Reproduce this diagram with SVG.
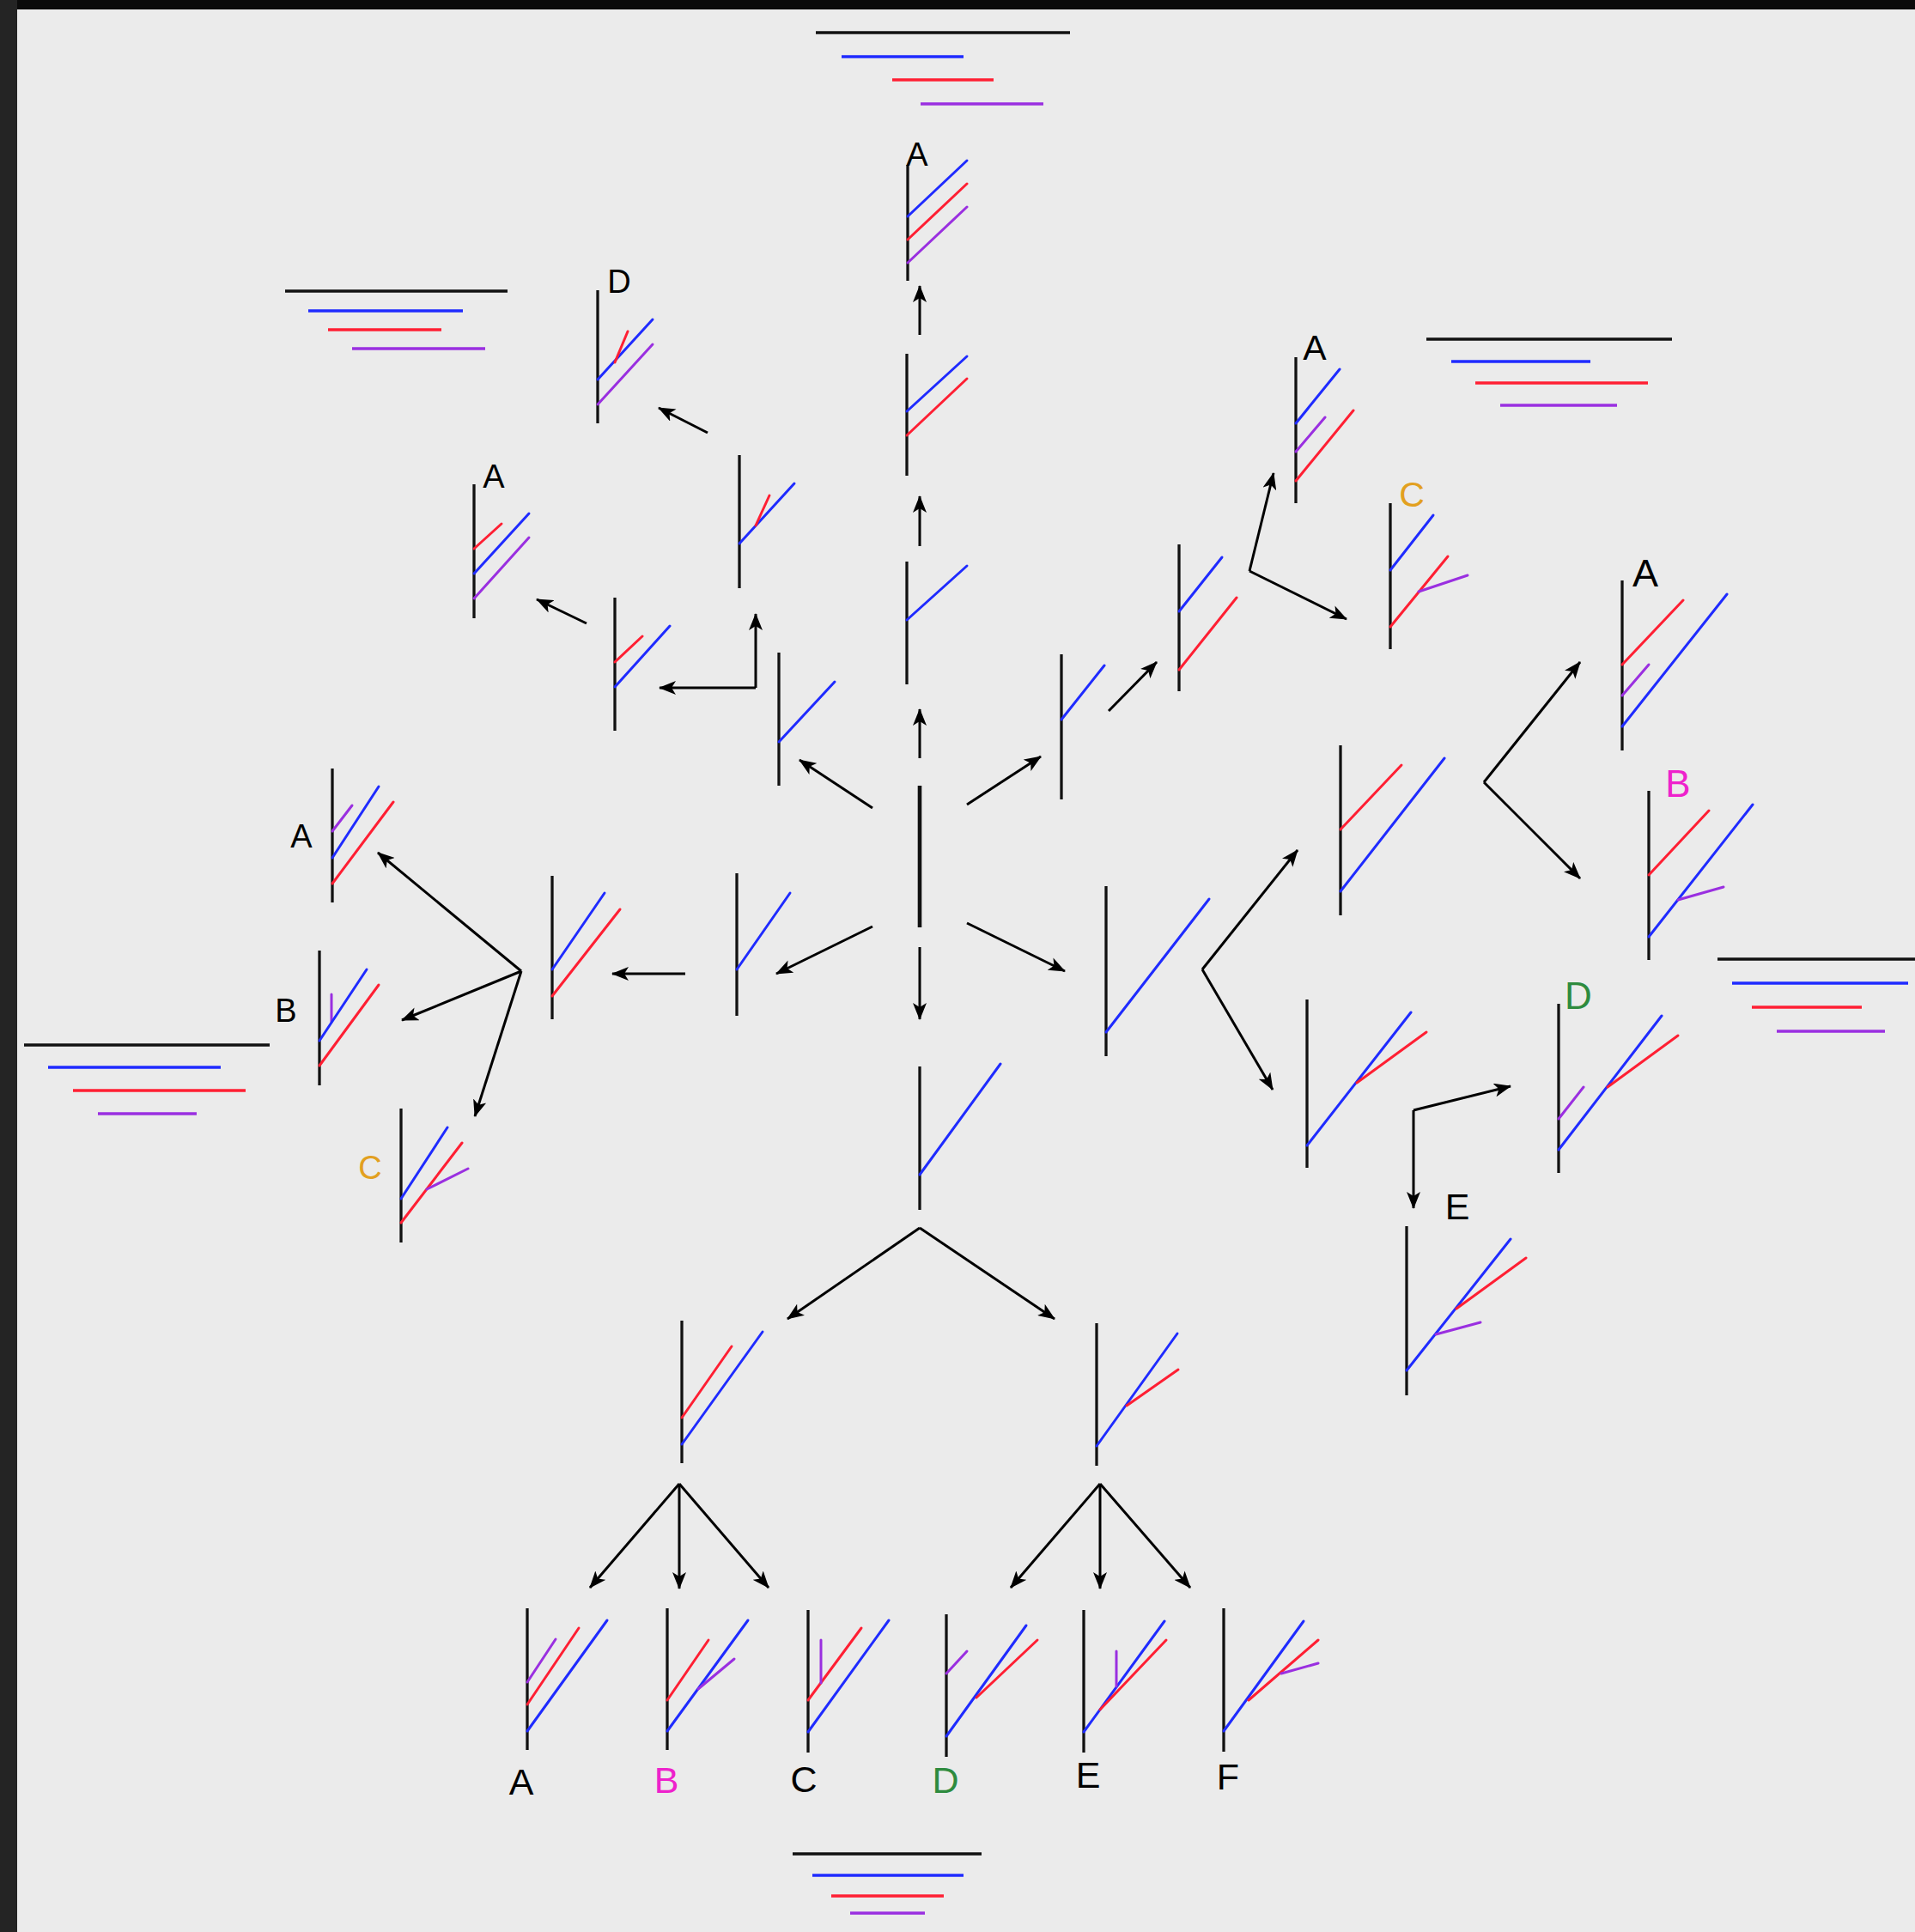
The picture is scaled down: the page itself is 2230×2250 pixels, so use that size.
<svg xmlns="http://www.w3.org/2000/svg" width="2230" height="2250" viewBox="0 0 2230 2250">
<style>
.t{stroke:#111;stroke-width:3.3;fill:none}
.c{stroke:#111;stroke-width:4.6;fill:none}
.b{stroke:#1f2bff;stroke-width:3;stroke-linecap:round;fill:none}
.r{stroke:#ff1f33;stroke-width:3;stroke-linecap:round;fill:none}
.p{stroke:#9a2fe0;stroke-width:3;stroke-linecap:round;fill:none}
.lk{stroke:#111;stroke-width:3.5;fill:none}
.lb{stroke:#1f2bff;stroke-width:3.5;fill:none}
.lr{stroke:#ff1f33;stroke-width:3.5;fill:none}
.lp{stroke:#9a2fe0;stroke-width:3.5;fill:none}
.a{stroke:#000;stroke-width:3;fill:none;marker-end:url(#ah)}
text{font-family:"Liberation Sans",Arial,sans-serif;text-anchor:middle;fill:#000}
.or{fill:#e2a020}
.mg{fill:#ee22cc}
.gr{fill:#2e8b3e}
</style>
<defs>
<marker id="ah" viewBox="0 0 20 16" refX="19" refY="8" markerWidth="20" markerHeight="16" markerUnits="userSpaceOnUse" orient="auto">
<path d="M0,0 L20,8 L0,16 L5,8 z" fill="#000"/>
</marker>
</defs>
<rect x="0" y="0" width="2230" height="2250" fill="#ebebeb"/>
<rect x="0" y="0" width="2230" height="11" fill="#0b0b0b"/>
<rect x="0" y="0" width="20" height="2250" fill="#242424"/>

<g id="legends">
<g id="legend-top"><line class="lk" x1="950" y1="38" x2="1246" y2="38"/><line class="lb" x1="980" y1="66" x2="1122" y2="66"/><line class="lr" x1="1039" y1="93" x2="1157" y2="93"/><line class="lp" x1="1072" y1="121" x2="1215" y2="121"/></g>
<g id="legend-ul"><line class="lk" x1="332" y1="339" x2="591" y2="339"/><line class="lb" x1="359" y1="362" x2="539" y2="362"/><line class="lr" x1="382" y1="384" x2="514" y2="384"/><line class="lp" x1="410" y1="406" x2="565" y2="406"/></g>
<g id="legend-ur"><line class="lk" x1="1661" y1="395" x2="1947" y2="395"/><line class="lb" x1="1690" y1="421" x2="1852" y2="421"/><line class="lr" x1="1718" y1="446" x2="1919" y2="446"/><line class="lp" x1="1747" y1="472" x2="1883" y2="472"/></g>
<g id="legend-r"><line class="lk" x1="2000" y1="1117" x2="2230" y2="1117"/><line class="lb" x1="2017" y1="1145" x2="2222" y2="1145"/><line class="lr" x1="2040" y1="1173" x2="2168" y2="1173"/><line class="lp" x1="2069" y1="1201" x2="2195" y2="1201"/></g>
<g id="legend-l"><line class="lk" x1="28" y1="1217" x2="314" y2="1217"/><line class="lb" x1="56" y1="1243" x2="257" y2="1243"/><line class="lr" x1="85" y1="1270" x2="286" y2="1270"/><line class="lp" x1="114" y1="1297" x2="229" y2="1297"/></g>
<g id="legend-b"><line class="lk" x1="923" y1="2159" x2="1143" y2="2159"/><line class="lb" x1="946" y1="2184" x2="1122" y2="2184"/><line class="lr" x1="968" y1="2208" x2="1099" y2="2208"/><line class="lp" x1="990" y1="2228" x2="1077" y2="2228"/></g>
</g>

<g id="connectors">
<line class="a" x1="1071" y1="390" x2="1071" y2="333"/>
<line class="a" x1="1071" y1="636" x2="1071" y2="578"/>
<line class="a" x1="1071" y1="883" x2="1071" y2="826"/>
<line class="a" x1="1071" y1="1103" x2="1071" y2="1187"/>
<line class="a" x1="1016" y1="941" x2="931" y2="885"/>
<line class="a" x1="1126" y1="937" x2="1212" y2="881"/>
<line class="a" x1="1016" y1="1079" x2="904" y2="1134"/>
<line class="a" x1="1126" y1="1075" x2="1240" y2="1131"/>
<line class="a" x1="880" y1="801" x2="768" y2="801"/>
<line class="a" x1="880" y1="801" x2="880" y2="715"/>
<line class="a" x1="824" y1="504" x2="767" y2="475"/>
<line class="a" x1="683" y1="726" x2="625" y2="698"/>
<line class="a" x1="1291" y1="828" x2="1347" y2="771"/>
<line class="a" x1="1455" y1="665" x2="1483" y2="551"/>
<line class="a" x1="1455" y1="665" x2="1568" y2="721"/>
<line class="a" x1="798" y1="1134" x2="713" y2="1134"/>
<line class="a" x1="607" y1="1131" x2="440" y2="993"/>
<line class="a" x1="607" y1="1131" x2="468" y2="1188"/>
<line class="a" x1="607" y1="1131" x2="553" y2="1300"/>
<line class="a" x1="1400" y1="1129" x2="1511" y2="990"/>
<line class="a" x1="1400" y1="1129" x2="1482" y2="1269"/>
<line class="a" x1="1728" y1="911" x2="1840" y2="771"/>
<line class="a" x1="1728" y1="911" x2="1840" y2="1023"/>
<line class="a" x1="1646" y1="1293" x2="1759" y2="1265"/>
<line class="a" x1="1646" y1="1293" x2="1646" y2="1407"/>
<line class="a" x1="1071" y1="1430" x2="917" y2="1536"/>
<line class="a" x1="1071" y1="1430" x2="1228" y2="1536"/>
<line class="a" x1="791" y1="1728" x2="687" y2="1849"/>
<line class="a" x1="791" y1="1728" x2="791" y2="1850"/>
<line class="a" x1="791" y1="1728" x2="895" y2="1849"/>
<line class="a" x1="1281" y1="1728" x2="1177" y2="1849"/>
<line class="a" x1="1281" y1="1728" x2="1281" y2="1850"/>
<line class="a" x1="1281" y1="1728" x2="1386" y2="1849"/>
</g>

<g id="node-center"><line class="c" x1="1071" y1="915" x2="1071" y2="1080"/></g>

<g id="node-top-A"><line class="t" x1="1057" y1="192" x2="1057" y2="327"/><line class="b" x1="1057" y1="252" x2="1126" y2="187"/><line class="r" x1="1057" y1="279" x2="1126" y2="214"/><line class="p" x1="1057" y1="306" x2="1126" y2="241"/><text x="1068" y="193" font-size="38">A</text></g>
<g id="node-c2"><line class="t" x1="1056" y1="412" x2="1056" y2="554"/><line class="b" x1="1056" y1="479" x2="1126" y2="415"/><line class="r" x1="1056" y1="507" x2="1126" y2="441"/></g>
<g id="node-c3"><line class="t" x1="1056" y1="654" x2="1056" y2="797"/><line class="b" x1="1056" y1="722" x2="1126" y2="659"/></g>
<g id="node-ul1"><line class="t" x1="907" y1="760" x2="907" y2="915"/><line class="b" x1="907" y1="864" x2="972" y2="794"/></g>
<g id="node-ur1"><line class="t" x1="1236" y1="762" x2="1236" y2="931"/><line class="b" x1="1236" y1="838" x2="1286" y2="775"/></g>
<g id="node-ll1"><line class="t" x1="858" y1="1017" x2="858" y2="1183"/><line class="b" x1="858" y1="1129" x2="920" y2="1040"/></g>
<g id="node-lr1"><line class="t" x1="1288" y1="1032" x2="1288" y2="1230"/><line class="b" x1="1288" y1="1202" x2="1408" y2="1047"/></g>
<g id="node-b1"><line class="t" x1="1071" y1="1242" x2="1071" y2="1409"/><line class="b" x1="1071" y1="1368" x2="1165" y2="1239"/></g>

<g id="node-ul2"><line class="t" x1="716" y1="696" x2="716" y2="851"/><line class="r" x1="716" y1="771" x2="748" y2="741"/><line class="b" x1="716" y1="800" x2="780" y2="729"/></g>
<g id="node-ul3"><line class="t" x1="861" y1="530" x2="861" y2="685"/><line class="b" x1="861" y1="633" x2="925" y2="563"/><line class="r" x1="880" y1="612" x2="896" y2="577"/></g>
<g id="node-D-ul"><line class="t" x1="696" y1="338" x2="696" y2="493"/><line class="b" x1="696" y1="442" x2="760" y2="372"/><line class="r" x1="716" y1="422" x2="731" y2="386"/><line class="p" x1="696" y1="471" x2="760" y2="401"/><text x="721" y="341" font-size="38">D</text></g>
<g id="node-A-ul"><line class="t" x1="552" y1="564" x2="552" y2="720"/><line class="r" x1="552" y1="639" x2="584" y2="610"/><line class="b" x1="552" y1="668" x2="616" y2="598"/><line class="p" x1="552" y1="697" x2="616" y2="626"/><text x="575" y="568" font-size="38">A</text></g>

<g id="node-ur2"><line class="t" x1="1373" y1="634" x2="1373" y2="805"/><line class="b" x1="1373" y1="712" x2="1423" y2="649"/><line class="r" x1="1373" y1="780" x2="1440" y2="696"/></g>
<g id="node-A-ur"><line class="t" x1="1509" y1="416" x2="1509" y2="586"/><line class="b" x1="1509" y1="493" x2="1560" y2="430"/><line class="p" x1="1509" y1="526" x2="1543" y2="486"/><line class="r" x1="1509" y1="560" x2="1576" y2="478"/><text x="1531" y="419" font-size="41">A</text></g>
<g id="node-C-ur"><line class="t" x1="1619" y1="586" x2="1619" y2="756"/><line class="b" x1="1619" y1="664" x2="1669" y2="600"/><line class="r" x1="1619" y1="730" x2="1686" y2="648"/><line class="p" x1="1652" y1="689" x2="1709" y2="670"/><text class="or" x="1644" y="590" font-size="41">C</text></g>

<g id="node-r1"><line class="t" x1="1561" y1="868" x2="1561" y2="1066"/><line class="r" x1="1561" y1="966" x2="1632" y2="891"/><line class="b" x1="1561" y1="1038" x2="1682" y2="883"/></g>
<g id="node-A-r"><line class="t" x1="1889" y1="676" x2="1889" y2="874"/><line class="r" x1="1889" y1="774" x2="1960" y2="699"/><line class="p" x1="1889" y1="810" x2="1920" y2="774"/><line class="b" x1="1889" y1="846" x2="2011" y2="692"/><text x="1916" y="683" font-size="45">A</text></g>
<g id="node-B-r"><line class="t" x1="1920" y1="921" x2="1920" y2="1118"/><line class="r" x1="1920" y1="1019" x2="1990" y2="944"/><line class="b" x1="1920" y1="1091" x2="2041" y2="937"/><line class="p" x1="1954" y1="1048" x2="2007" y2="1033"/><text class="mg" x="1954" y="928" font-size="44">B</text></g>
<g id="node-r2"><line class="t" x1="1522" y1="1164" x2="1522" y2="1360"/><line class="b" x1="1522" y1="1334" x2="1643" y2="1179"/><line class="r" x1="1580" y1="1261" x2="1661" y2="1202"/></g>
<g id="node-D-r"><line class="t" x1="1815" y1="1169" x2="1815" y2="1366"/><line class="p" x1="1815" y1="1303" x2="1844" y2="1266"/><line class="b" x1="1815" y1="1339" x2="1935" y2="1183"/><line class="r" x1="1872" y1="1266" x2="1954" y2="1206"/><text class="gr" x="1838" y="1175" font-size="44">D</text></g>
<g id="node-E-r"><line class="t" x1="1638" y1="1428" x2="1638" y2="1625"/><line class="b" x1="1638" y1="1596" x2="1759" y2="1443"/><line class="r" x1="1696" y1="1524" x2="1777" y2="1465"/><line class="p" x1="1672" y1="1554" x2="1724" y2="1540"/><text x="1697" y="1420" font-size="43">E</text></g>

<g id="node-l2"><line class="t" x1="643" y1="1020" x2="643" y2="1187"/><line class="b" x1="643" y1="1129" x2="704" y2="1040"/><line class="r" x1="643" y1="1160" x2="722" y2="1059"/></g>
<g id="node-A-l"><line class="t" x1="387" y1="895" x2="387" y2="1051"/><line class="p" x1="387" y1="968" x2="410" y2="938"/><line class="b" x1="387" y1="999" x2="441" y2="916"/><line class="r" x1="387" y1="1029" x2="458" y2="934"/><text x="351" y="987" font-size="38">A</text></g>
<g id="node-B-l"><line class="t" x1="372" y1="1107" x2="372" y2="1264"/><line class="p" x1="386" y1="1158" x2="386" y2="1190"/><line class="b" x1="372" y1="1212" x2="427" y2="1129"/><line class="r" x1="372" y1="1241" x2="441" y2="1147"/><text x="333" y="1190" font-size="38">B</text></g>
<g id="node-C-l"><line class="t" x1="467" y1="1291" x2="467" y2="1447"/><line class="b" x1="467" y1="1396" x2="521" y2="1313"/><line class="r" x1="467" y1="1424" x2="538" y2="1331"/><line class="p" x1="497" y1="1385" x2="545" y2="1361"/><text class="or" x="431" y="1373" font-size="38">C</text></g>

<g id="node-bm1"><line class="t" x1="794" y1="1538" x2="794" y2="1704"/><line class="r" x1="794" y1="1651" x2="852" y2="1568"/><line class="b" x1="794" y1="1682" x2="888" y2="1551"/></g>
<g id="node-bm2"><line class="t" x1="1277" y1="1541" x2="1277" y2="1707"/><line class="b" x1="1277" y1="1684" x2="1371" y2="1553"/><line class="r" x1="1312" y1="1637" x2="1372" y2="1595"/></g>

<g id="node-A-b"><line class="t" x1="614" y1="1873" x2="614" y2="2038"/><line class="p" x1="614" y1="1959" x2="647" y2="1909"/><line class="r" x1="614" y1="1985" x2="674" y2="1896"/><line class="b" x1="614" y1="2016" x2="707" y2="1887"/><text x="607" y="2090" font-size="43">A</text></g>
<g id="node-B-b"><line class="t" x1="777" y1="1873" x2="777" y2="2038"/><line class="r" x1="777" y1="1980" x2="825" y2="1910"/><line class="b" x1="777" y1="2016" x2="871" y2="1887"/><line class="p" x1="813" y1="1967" x2="855" y2="1932"/><text class="mg" x="776" y="2088" font-size="43">B</text></g>
<g id="node-C-b"><line class="t" x1="941" y1="1875" x2="941" y2="2041"/><line class="r" x1="941" y1="1980" x2="1003" y2="1896"/><line class="b" x1="941" y1="2017" x2="1035" y2="1887"/><line class="p" x1="956" y1="1910" x2="956" y2="1960"/><text x="936" y="2087" font-size="43">C</text></g>
<g id="node-D-b"><line class="t" x1="1102" y1="1880" x2="1102" y2="2046"/><line class="p" x1="1102" y1="1949" x2="1126" y2="1923"/><line class="b" x1="1102" y1="2022" x2="1195" y2="1893"/><line class="r" x1="1137" y1="1977" x2="1208" y2="1910"/><text class="gr" x="1101" y="2088" font-size="43">D</text></g>
<g id="node-E-b"><line class="t" x1="1262" y1="1875" x2="1262" y2="2041"/><line class="b" x1="1262" y1="2017" x2="1356" y2="1888"/><line class="r" x1="1281" y1="1991" x2="1358" y2="1910"/><line class="p" x1="1300" y1="1923" x2="1300" y2="1964"/><text x="1267" y="2082" font-size="43">E</text></g>
<g id="node-F-b"><line class="t" x1="1425" y1="1873" x2="1425" y2="2040"/><line class="b" x1="1425" y1="2016" x2="1518" y2="1888"/><line class="r" x1="1454" y1="1980" x2="1535" y2="1910"/><line class="p" x1="1492" y1="1949" x2="1535" y2="1937"/><text x="1430" y="2084" font-size="43">F</text></g>
</svg>
